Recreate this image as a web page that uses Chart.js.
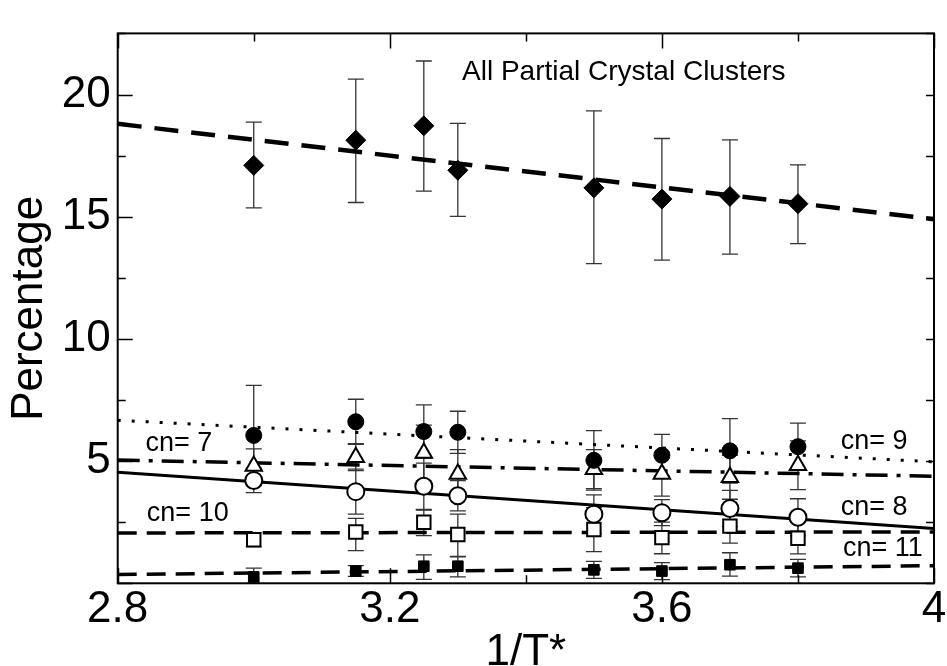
<!DOCTYPE html>
<html>
<head>
<meta charset="utf-8">
<script src="https://cdn.jsdelivr.net/npm/chart.js@4.4.1/dist/chart.umd.min.js"></script>
<style>
  html, body { margin: 0; padding: 0; background: #fff; }
</style>
</head>
<body>
<canvas id="chart" width="947" height="666"></canvas>
<script>
// ── data ────────────────────────────────────
const xValues = [3.0, 3.15, 3.25, 3.3, 3.5, 3.6, 3.7, 3.8];

// all partial crystal clusters (diamonds)
const allPct  = [17.1, 18.13, 18.72, 16.9, 16.18, 15.72, 15.83, 15.53];
const allLow  = [15.36, 15.58, 16.05, 15.01, 13.08, 13.22, 13.47, 13.9];
const allHigh = [18.87, 20.63, 21.37, 18.82, 19.33, 18.2, 18.14, 17.12];

// cn = 9 (filled circles)
const cn9Pct  = [6.05, 6.61, 6.21, 6.18, 5.03, 5.24, 5.42, 5.59];
const cn9Low  = [4.0, 5.69, 5.12, 5.32, 3.81, 4.39, 4.1, 4.63];
const cn9High = [8.1, 7.53, 7.3, 7.04, 6.25, 6.09, 6.74, 6.55];

// cn = 7 (open triangles)
const cn7Pct  = [4.8, 5.16, 5.33, 4.47, 4.67, 4.47, 4.34, 4.83];
const cn7Low  = [4.1, 4.61, 4.19, 3.47, 3.87, 3.57, 3.44, 3.83];
const cn7High = [5.5, 5.71, 6.47, 5.47, 5.47, 5.37, 5.24, 5.83];

// cn = 8 (open circles)
const cn8Pct  = [4.21, 3.75, 3.97, 3.58, 2.83, 2.89, 3.06, 2.7];
const cn8Low  = [3.71, 2.83, 3.02, 2.96, 2.04, 2.36, 2.32, 1.94];
const cn8High = [4.71, 4.67, 4.92, 4.2, 3.62, 3.42, 3.8, 3.46];

// cn = 10 (open squares)
const cn10Pct  = [1.78, 2.1, 2.5, 2.0, 2.2, 1.87, 2.34, 1.84];
const cn10Low  = [1.5, 1.34, 1.95, 1.1, 1.3, 1.21, 1.64, 1.2];
const cn10High = [2.06, 2.66, 3.0, 2.83, 3.1, 2.5, 3.0, 2.5];

// cn = 11 (filled squares)
const cn11Pct  = [0.26, 0.5, 0.7, 0.7, 0.55, 0.5, 0.76, 0.62];
const cn11Low  = [0.0, 0.28, 0.16, 0.26, 0.2, 0.15, 0.29, 0.26];
const cn11High = [0.62, 0.72, 1.16, 1.08, 0.9, 0.85, 1.25, 0.98];

// linear fits, end points at x = 2.8 and x = 4
const fitX     = [2.8, 4.0];
const fitAll   = [18.8, 14.9];
const fitCn9   = [6.67, 4.97];
const fitCn7   = [5.04, 4.38];
const fitCn8   = [4.54, 2.24];
const fitCn10  = [2.06, 2.1];
const fitCn11  = [0.36, 0.72];

// tick values
const xTicksMajor = [2.8, 3.2, 3.6, 4.0];
const yTicksMajor = [5, 10, 15, 20];

// ── helpers ─────────────────────────────────
const FONT = "'Liberation Sans', Arial, Helvetica, sans-serif";
const pts = (xs, ys) => xs.map((x, i) => ({ x, y: ys[i] }));

function markerSet(label, ys, low, high, style, radius, filled, order) {
  return {
    type: "scatter",
    label,
    data: pts(xValues, ys),
    errLow: low,
    errHigh: high,
    pointStyle: style,
    pointRadius: radius,
    pointHoverRadius: radius,
    pointBackgroundColor: filled ? "#000" : "#fff",
    pointBorderColor: "#000",
    pointBorderWidth: filled ? 1 : 2,
    order,
  };
}

function fitSet(label, ys, dash, width) {
  return {
    type: "line",
    label,
    data: pts(fitX, ys),
    borderColor: "#000",
    borderWidth: width,
    borderDash: dash,
    borderCapStyle: "butt",
    pointRadius: 0,
    fill: false,
    tension: 0,
    order: 10,
  };
}

// ── plugins ─────────────────────────────────
// vertical error bars, drawn under markers
const errorBars = {
  id: "errorBars",
  beforeDatasetsDraw(chart) {
    const { ctx, scales: { x, y } } = chart;
    ctx.save();
    ctx.strokeStyle = "#333";
    ctx.lineWidth = 1.3;
    chart.data.datasets.forEach((ds) => {
      if (!ds.errLow) return;
      ds.data.forEach((p, i) => {
        const px = x.getPixelForValue(p.x);
        const yl = y.getPixelForValue(ds.errLow[i]);
        const yh = y.getPixelForValue(ds.errHigh[i]);
        ctx.beginPath();
        ctx.moveTo(px, yl); ctx.lineTo(px, yh);
        ctx.moveTo(px - 8, yl); ctx.lineTo(px + 8, yl);
        ctx.moveTo(px - 8, yh); ctx.lineTo(px + 8, yh);
        ctx.stroke();
      });
    });
    ctx.restore();
  },
};

// frame on all four sides with inward ticks
const frame = {
  id: "frame",
  afterDraw(chart) {
    const { ctx, chartArea: a, scales: { x, y } } = chart;
    ctx.save();
    ctx.strokeStyle = "#000";
    ctx.lineWidth = 1.5;
    x.ticks.forEach((t) => {
      const px = Math.round(x.getPixelForValue(t.value)) + 0.5;
      const major = Math.round(t.value * 10) % 4 === 0;
      const len = major ? 15 : 8;
      ctx.beginPath();
      ctx.moveTo(px, a.bottom); ctx.lineTo(px, a.bottom - len);
      ctx.moveTo(px, a.top); ctx.lineTo(px, a.top + len);
      ctx.stroke();
    });
    y.ticks.forEach((t) => {
      const py = Math.round(y.getPixelForValue(t.value)) + 0.5;
      const major = Math.round(t.value / 2.5) % 2 === 0;
      ctx.beginPath();
      ctx.moveTo(a.left, py); ctx.lineTo(a.left + (major ? 15 : 8), py);
      ctx.moveTo(a.right, py); ctx.lineTo(a.right - 8, py);
      ctx.stroke();
    });
    ctx.lineWidth = 2;
    ctx.strokeRect(a.left, a.top, a.right - a.left, a.bottom - a.top);
    ctx.restore();
  },
};

// text labels placed in data coordinates
const notes = [
  { text: "All Partial Crystal Clusters", x: 3.544, y: 20.9, size: 28 },
  { text: "cn= 7", x: 2.89, y: 5.72, size: 27 },
  { text: "cn= 10", x: 2.903, y: 2.87, size: 27 },
  { text: "cn= 9", x: 3.912, y: 5.78, size: 27 },
  { text: "cn= 8", x: 3.912, y: 3.09, size: 27 },
  { text: "cn= 11", x: 3.925, y: 1.41, size: 27 },
];
const textNotes = {
  id: "textNotes",
  afterDatasetsDraw(chart) {
    const { ctx, scales: { x, y } } = chart;
    ctx.save();
    ctx.fillStyle = "#000";
    ctx.textAlign = "center";
    ctx.textBaseline = "middle";
    notes.forEach((n) => {
      ctx.font = `${n.size}px ${FONT}`;
      ctx.fillText(n.text, x.getPixelForValue(n.x), y.getPixelForValue(n.y));
    });
    ctx.restore();
  },
};

// ── chart ───────────────────────────────────
new Chart(document.getElementById("chart"), {
  type: "scatter",
  data: {
    datasets: [
      markerSet("all", allPct, allLow, allHigh, "rectRot", 10, true, 1),
      markerSet("cn= 9", cn9Pct, cn9Low, cn9High, "circle", 8, true, 1),
      markerSet("cn= 7", cn7Pct, cn7Low, cn7High, "triangle", 9.5, false, 1),
      markerSet("cn= 8", cn8Pct, cn8Low, cn8High, "circle", 8.5, false, 1),
      markerSet("cn= 10", cn10Pct, cn10Low, cn10High, "rect", 9.5, false, 1),
      markerSet("cn= 11", cn11Pct, cn11Low, cn11High, "rect", 7.5, true, 1),
      fitSet("fit all", fitAll, [24, 13], 4.5),
      fitSet("fit cn9", fitCn9, [3, 11], 3),
      fitSet("fit cn7", fitCn7, [22, 9, 4, 9], 3.5),
      fitSet("fit cn8", fitCn8, [], 3),
      fitSet("fit cn10", fitCn10, [19, 10], 3.5),
      fitSet("fit cn11", fitCn11, [19, 10], 3.5),
    ],
  },
  options: {
    responsive: false,
    animation: false,
    devicePixelRatio: 1,
    layout: { padding: { top: 13, right: 13, left: 0, bottom: 0 } },
    plugins: { legend: { display: false }, tooltip: { enabled: false } },
    scales: {
      x: {
        type: "linear",
        min: 2.8,
        max: 4.0,
        grid: { display: false, drawTicks: false },
        border: { display: false },
        ticks: {
          stepSize: 0.2,
          autoSkip: false,
          maxRotation: 0,
          padding: 0,
          color: "#000",
          font: { family: FONT, size: 44 },
          callback: (v) => {
            const r = Math.round(v * 10) / 10;
            return xTicksMajor.some((m) => Math.abs(m - r) < 1e-6) ? String(r) : "";
          },
        },
        title: {
          display: true,
          text: "1/T*",
          color: "#000",
          font: { family: FONT, size: 44, lineHeight: 0.6 },
          padding: 0,
        },
        afterFit: (s) => { s.height = 82.7; },
      },
      y: {
        type: "linear",
        min: 0,
        max: 22.5,
        grid: { display: false, drawTicks: false },
        border: { display: false },
        ticks: {
          stepSize: 2.5,
          autoSkip: false,
          padding: 7,
          color: "#000",
          font: { family: FONT, size: 44 },
          callback: (v) => (yTicksMajor.includes(v) ? String(v) : ""),
        },
        title: {
          display: true,
          text: "Percentage",
          color: "#000",
          font: { family: FONT, size: 44 },
          padding: { top: 3, bottom: 0 },
        },
        afterFit: (s) => { s.width = 117.7; },
      },
    },
  },
  plugins: [errorBars, textNotes, frame],
});
</script>
</body>
</html>
